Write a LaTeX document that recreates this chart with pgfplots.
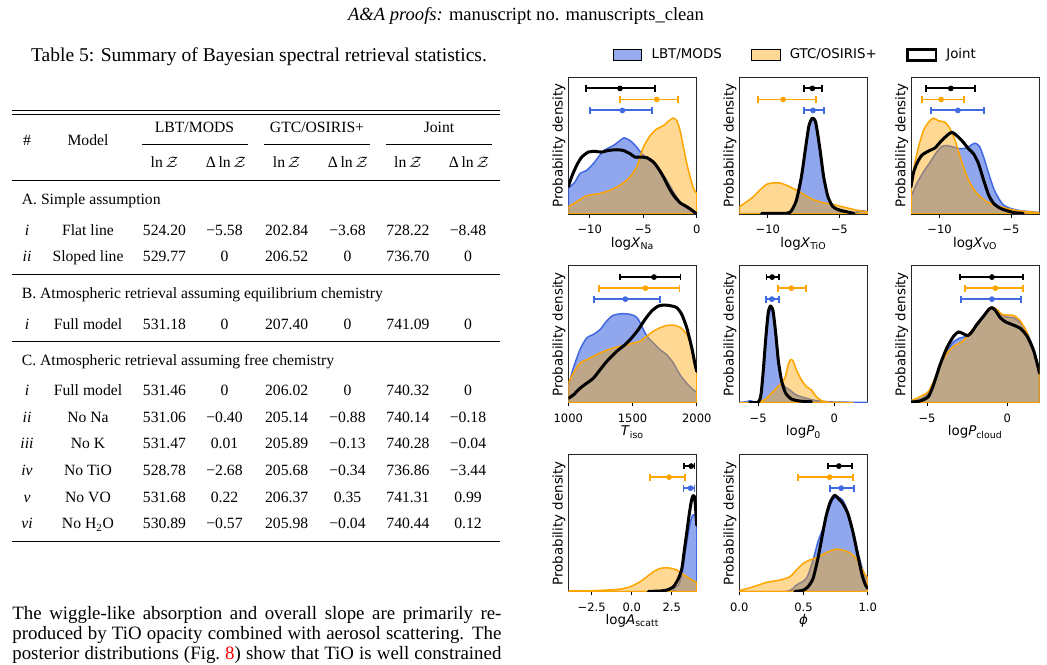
\documentclass[border=0pt]{standalone}
\usepackage{fontspec}
\setmainfont{Liberation Serif}
\newfontfamily\plotfont{DejaVu Sans}
\usepackage{pgfplots}
\pgfplotsset{compat=1.18}
\definecolor{royal}{RGB}{65,105,225}
\definecolor{orng}{RGB}{255,165,0}
\newcommand\pf{\plotfont\fontsize{7.1}{8.5}\selectfont}
\newcommand\tf{\plotfont\fontsize{6.1}{7.5}\selectfont}
\pgfplotsset{
  kde/.style={scale only axis, width=68.1pt, height=72.6pt, anchor=south west,
    ymin=0, ymax=1, ytick=\empty, xtick pos=bottom, tick align=outside,
    major tick length=1.9pt, tick style={black, line width=0.45pt},
    axis line style={black!85, line width=0.5pt},
    tick label style={font=\tf},
    xticklabel style={anchor=base, yshift=-8.5pt},
    label style={font=\pf},
    xlabel style={at={(axis description cs:0.5,-0.241)}, anchor=base},
    ylabel style={at={(axis description cs:-0.072,0.5)}, anchor=center},
    ylabel={Probability density}, clip=true},
  bfill/.style={forget plot, draw=royal, line width=0.8pt, fill=royal, fill opacity=0.58, smooth, tension=0.4, line join=round},
  ofill/.style={forget plot, draw=orng, line width=0.8pt, fill=orng, fill opacity=0.42, smooth, tension=0.4, line join=round},
  jline/.style={forget plot, draw=black, line width=1.6pt, smooth, tension=0.4, line join=round, line cap=round},
  eb/.style={forget plot, color=#1, only marks, mark=*, mark size=1.3pt,
    error bars/.cd, x dir=both, x explicit,
    error bar style={line width=1pt, #1},
    error mark options={#1, rotate=90, mark size=1.8pt, line width=1pt}},
}
\tikzset{tn/.style={anchor=base, inner sep=0pt, font=\fontsize{8.3}{10}\selectfont},
         tl/.style={anchor=base west, inner sep=0pt, font=\fontsize{8.3}{10}\selectfont}}
\newcommand\trow[9]{%
  \node[tn] at (27,#1) {\textit{#2}};
  \node[tn] at (88,#1) {#3};
  \node[tn] at (164.5,#1) {#4};
  \node[tn] at (224.5,#1) {#5};
  \node[tn] at (286.7,#1) {#6};
  \node[tn] at (347.5,#1) {#7};
  \node[tn] at (408,#1) {#8};
  \node[tn] at (468,#1) {#9};}
\begin{document}
\begin{tikzpicture}[x=0.53pt,y=-0.53pt]
\fill[white] (0,0) rectangle (1047,665);
\path[use as bounding box] (0,0) rectangle (1047,665);
% page header and caption
\node[anchor=base, inner sep=0pt, font=\fontsize{9.85}{12}\selectfont] at (526,21) {\textit{A\&A proofs:} manuscript no. manuscripts\_clean};
\node[anchor=base, inner sep=0pt, font=\fontsize{10.35}{12}\selectfont] at (259,62) {Table 5: Summary of Bayesian spectral retrieval statistics.};
% rules
\draw[line width=0.5pt] (12,110.7) -- (500,110.7);
\draw[line width=0.5pt] (12,114.3) -- (500,114.3);
\draw[line width=0.4pt] (142,144.5) -- (248,144.5);
\draw[line width=0.4pt] (264,144.5) -- (370,144.5);
\draw[line width=0.4pt] (386,144.5) -- (492,144.5);
\draw[line width=0.4pt] (12,180) -- (500,180);
\draw[line width=0.4pt] (12,274) -- (500,274);
\draw[line width=0.4pt] (12,341) -- (500,341);
\draw[line width=0.5pt] (12,541) -- (500,541);
% header
\node[tn] at (27,145.5) {\#};
\node[tn] at (88,145.5) {Model};
\node[tn] at (194.5,133) {LBT/MODS};
\node[tn] at (317,133) {GTC/OSIRIS+};
\node[tn] at (439,133) {Joint};
\foreach \cx in {164.5,286.7,408} {\node[tn] at (\cx,168) {ln\,$\mathcal{Z}$};}
\foreach \cx in {226,348,469} {\node[tn] at (\cx,168) {Δ\,ln\,$\mathcal{Z}$};}
\node[tl] at (21.5,205) {A. Simple assumption};
\trow{236}{i}{Flat line}{524.20}{−5.58}{202.84}{−3.68}{728.22}{−8.48}
\trow{261.7}{ii}{Sloped line}{529.77}{0}{206.52}{0}{736.70}{0}
\node[tl] at (21.5,298.5) {B. Atmospheric retrieval assuming equilibrium chemistry};
\trow{329.5}{i}{Full model}{531.18}{0}{207.40}{0}{741.09}{0}
\node[tl] at (21.5,365.5) {C. Atmospheric retrieval assuming free chemistry};
\trow{396}{i}{Full model}{531.46}{0}{206.02}{0}{740.32}{0}
\trow{422.7}{ii}{No Na}{531.06}{−0.40}{205.14}{−0.88}{740.14}{−0.18}
\trow{449}{iii}{No K}{531.47}{0.01}{205.89}{−0.13}{740.28}{−0.04}
\trow{476}{iv}{No TiO}{528.78}{−2.68}{205.68}{−0.34}{736.86}{−3.44}
\trow{502.5}{v}{No VO}{531.68}{0.22}{206.37}{0.35}{741.31}{0.99}
\trow{529}{vi}{No H\textsubscript{2}O}{530.89}{−0.57}{205.98}{−0.04}{740.44}{0.12}
% body text
\node[anchor=base west, inner sep=0pt, font=\fontsize{10}{12}\selectfont] at (12,620) {\makebox[259.2pt][s]{The wiggle-like absorption and overall slope are primarily re-}};
\node[anchor=base west, inner sep=0pt, font=\fontsize{10}{12}\selectfont] at (12,640) {\makebox[259.2pt][s]{produced by TiO opacity combined with aerosol scattering. The}};
\node[anchor=base west, inner sep=0pt, font=\fontsize{10}{12}\selectfont] at (12,659.5) {\makebox[259.2pt][s]{posterior distributions (Fig.~\textcolor{red}{8}) show that TiO is well constrained}};
% axis anchors
\coordinate (a1) at (568.3,214);
\coordinate (a2) at (739.3,214);
\coordinate (a3) at (911,214);
\coordinate (a4) at (568.3,402.7);
\coordinate (a5) at (739.3,402.7);
\coordinate (a6) at (911,402.7);
\coordinate (a7) at (568.3,591.7);
\coordinate (a8) at (739.3,591.7);
% ---------------- panel 1
\begin{axis}[kde, at={(a1)}, xmin=-12, xmax=0, xtick={-10,-5,0}, xticklabels={−10,−5,0},
  xlabel={log\textit{X}\textsubscript{Na}},
  legend style={at={(axis description cs:0.3455,1.1606)}, anchor=west, draw=none, fill=none,
    inner sep=0pt, font=\pf, legend columns=3,
    /tikz/every odd column/.append style={column sep=3pt},
    /tikz/every even column/.append style={column sep=13.6pt}},
  legend image code/.code={\draw[#1] (0pt,-2.9pt) rectangle (15pt,2.9pt);}]
\addlegendimage{fill=royal, fill opacity=0.55, draw=none}
\addlegendentry{LBT/MODS}
\addlegendimage{fill=orng, fill opacity=0.42, draw=none}
\addlegendentry{GTC/OSIRIS+}
\addlegendimage{fill=white, draw=black, line width=1.2pt}
\addlegendentry{Joint}
\addplot[bfill] coordinates {(-12,0.19) (-11.6,0.215) (-11.37,0.234) (-10.91,0.295) (-10.28,0.319) (-9.67,0.367) (-9.2,0.415) (-8.8,0.455) (-8.42,0.476) (-7.79,0.500) (-7.17,0.536) (-6.79,0.556) (-6.23,0.536) (-5.61,0.488) (-5.14,0.440) (-4.67,0.411) (-4.05,0.386) (-3.43,0.319) (-2.80,0.246) (-2.18,0.162) (-1.56,0.089) (-0.93,0.041) (-0.31,0.017) (0,0.005)} \closedcycle;
\addplot[ofill] coordinates {(-12,0.053) (-11.22,0.089) (-10.29,0.133) (-9.04,0.150) (-8.10,0.174) (-7.17,0.210) (-6.23,0.271) (-5.61,0.343) (-5.30,0.415) (-4.99,0.488) (-4.36,0.572) (-3.74,0.621) (-3.12,0.645) (-2.49,0.688) (-2.18,0.700) (-1.87,0.681) (-1.56,0.609) (-1.25,0.488) (-0.93,0.367) (-0.62,0.271) (-0.31,0.186) (0,0.150)} \closedcycle;
\addplot[jline] coordinates {(-12,0.198) (-11.69,0.271) (-11.22,0.355) (-10.75,0.415) (-10.13,0.452) (-9.51,0.457) (-8.88,0.452) (-8.26,0.464) (-7.48,0.469) (-6.86,0.464) (-6.23,0.440) (-5.77,0.415) (-5.30,0.415) (-4.67,0.411) (-4.05,0.379) (-3.58,0.331) (-3.12,0.271) (-2.65,0.198) (-2.18,0.138) (-1.56,0.082) (-0.93,0.053) (-0.47,0.029) (-0.09,0.005)};
\addplot[eb=black] coordinates {(-7.17,0.917) += (3.27,0) -= (3.21,0)};
\addplot[eb=orng] coordinates {(-3.74,0.836) += (1.96,0) -= (3.43,0)};
\addplot[eb=royal] coordinates {(-6.95,0.756) += (2.74,0) -= (3.02,0)};
\end{axis}
% ---------------- panel 2
\begin{axis}[kde, at={(a2)}, xmin=-12, xmax=-3, xtick={-10,-5}, xticklabels={−10,−5},
  xlabel={log\textit{X}\textsubscript{TiO}}]
\addplot[bfill] coordinates {(-12,0.003) (-8.81,0.005) (-8.23,0.041) (-7.88,0.126) (-7.53,0.343) (-7.30,0.536) (-7.07,0.669) (-6.88,0.700) (-6.65,0.657) (-6.42,0.488) (-6.14,0.295) (-5.86,0.150) (-5.56,0.065) (-5.21,0.029) (-4.98,0.017) (-4.05,0.010) (-3.35,0.024) (-3.00,0.012)} \closedcycle;
\addplot[ofill] coordinates {(-12,0.053) (-11.49,0.089) (-11.02,0.126) (-10.56,0.174) (-10.09,0.217) (-9.63,0.227) (-9.16,0.227) (-8.70,0.210) (-8.23,0.186) (-7.77,0.162) (-7.30,0.130) (-6.84,0.106) (-6.37,0.089) (-5.91,0.077) (-5.44,0.070) (-4.98,0.058) (-4.51,0.046) (-4.05,0.034) (-3.58,0.024) (-3.00,0.014)} \closedcycle;
\addplot[jline] coordinates {(-10.44,0.004) (-8.70,0.005) (-8.35,0.024) (-8.00,0.101) (-7.65,0.271) (-7.35,0.488) (-7.12,0.645) (-6.88,0.700) (-6.65,0.669) (-6.37,0.488) (-6.09,0.271) (-5.79,0.126) (-5.44,0.053) (-4.98,0.029) (-3.98,0.005)};
\addplot[eb=black] coordinates {(-6.88,0.917) += (0.69,0) -= (0.61,0)};
\addplot[eb=orng] coordinates {(-8.93,0.836) += (2.28,0) -= (1.74,0)};
\addplot[eb=royal] coordinates {(-6.84,0.756) += (0.75,0) -= (0.63,0)};
\end{axis}
% ---------------- panel 3
\begin{axis}[kde, at={(a3)}, xmin=-12, xmax=-3, xtick={-10,-5}, xticklabels={−10,−5},
  xlabel={log\textit{X}\textsubscript{VO}}]
\addplot[bfill] coordinates {(-12,0.126) (-11.60,0.222) (-11.13,0.307) (-10.66,0.379) (-10.20,0.452) (-9.84,0.493) (-9.49,0.500) (-9.02,0.488) (-8.55,0.476) (-8.09,0.483) (-7.73,0.507) (-7.50,0.517) (-7.20,0.493) (-6.91,0.415) (-6.56,0.295) (-6.21,0.186) (-5.86,0.114) (-5.51,0.065) (-5.04,0.041) (-4.34,0.024) (-3.63,0.017) (-3.00,0.010)} \closedcycle;
\addplot[ofill] coordinates {(-12,0.198) (-11.79,0.343) (-11.48,0.488) (-11.13,0.609) (-10.78,0.669) (-10.43,0.700) (-10.08,0.681) (-9.61,0.669) (-9.26,0.621) (-8.91,0.536) (-8.55,0.415) (-8.20,0.307) (-7.85,0.222) (-7.38,0.150) (-6.91,0.106) (-6.45,0.077) (-5.74,0.053) (-4.80,0.029) (-3.87,0.017) (-3.00,0.010)} \closedcycle;
\addplot[jline] coordinates {(-12,0.198) (-11.84,0.295) (-11.60,0.367) (-11.25,0.428) (-10.78,0.459) (-10.31,0.483) (-9.96,0.524) (-9.49,0.572) (-9.14,0.597) (-8.79,0.572) (-8.44,0.536) (-7.97,0.476) (-7.62,0.440) (-7.27,0.367) (-6.91,0.246) (-6.56,0.138) (-6.21,0.077) (-5.74,0.041) (-5.27,0.024) (-4.80,0.010) (-4.15,0.005)};
\addplot[eb=black] coordinates {(-9.21,0.917) += (1.71,0) -= (1.74,0)};
\addplot[eb=orng] coordinates {(-9.89,0.836) += (1.62,0) -= (1.36,0)};
\addplot[eb=royal] coordinates {(-8.72,0.756) += (1.81,0) -= (1.90,0)};
\end{axis}
% ---------------- panel 4
\begin{axis}[kde, at={(a4)}, xmin=1000, xmax=2000, xtick={1000,1500,2000}, xticklabels={1000,1500,2000},
  xlabel={\textit{T}\textsubscript{iso}}]
\addplot[bfill] coordinates {(1000,0.118) (1039,0.252) (1091,0.387) (1143,0.473) (1195,0.498) (1247,0.534) (1299,0.596) (1338,0.632) (1377,0.645) (1429,0.650) (1480,0.645) (1519,0.632) (1545,0.608) (1571,0.559) (1597,0.510) (1623,0.473) (1662,0.436) (1714,0.387) (1766,0.350) (1818,0.289) (1870,0.203) (1922,0.142) (1974,0.093) (2000,0.076)} \closedcycle;
\addplot[ofill] coordinates {(1000,0.142) (1039,0.216) (1091,0.289) (1169,0.326) (1247,0.363) (1325,0.392) (1403,0.412) (1480,0.429) (1558,0.449) (1610,0.485) (1662,0.522) (1714,0.547) (1766,0.564) (1818,0.566) (1870,0.551) (1922,0.498) (1961,0.400) (1987,0.301) (2000,0.240)} \closedcycle;
\addplot[jline] coordinates {(1000,0.032) (1039,0.056) (1091,0.105) (1143,0.142) (1195,0.179) (1247,0.240) (1299,0.301) (1377,0.375) (1442,0.424) (1493,0.473) (1545,0.534) (1597,0.608) (1649,0.669) (1701,0.706) (1753,0.713) (1805,0.706) (1844,0.694) (1883,0.645) (1922,0.547) (1961,0.400) (1987,0.277) (2000,0.228)};
\addplot[eb=black] coordinates {(1667,0.917) += (206,0) -= (262,0)};
\addplot[eb=orng] coordinates {(1600,0.836) += (265,0) -= (361,0)};
\addplot[eb=royal] coordinates {(1444,0.756) += (270,0) -= (241,0)};
\end{axis}
% ---------------- panel 5
\begin{axis}[kde, at={(a5)}, xmin=-6.24, xmax=2.2, xtick={-5,0}, xticklabels={−5,0},
  xlabel={log\textit{P}\textsubscript{0}}]
\addplot[bfill] coordinates {(-6.24,0.002) (-5.76,0.007) (-5.54,0.015) (-5.21,0.005) (-4.93,0.012) (-4.78,0.105) (-4.63,0.277) (-4.45,0.498) (-4.28,0.650) (-4.15,0.681) (-4.02,0.645) (-3.88,0.522) (-3.75,0.375) (-3.62,0.252) (-3.47,0.167) (-3.25,0.118) (-2.93,0.093) (-2.49,0.056) (-1.83,0.032) (-1.18,0.015) (-0.09,0.005) (2.2,0.002)} \closedcycle;
\addplot[ofill] coordinates {(-6.24,0.001) (-5.32,0.001) (-4.89,0.005) (-4.45,0.032) (-4.02,0.081) (-3.58,0.130) (-3.25,0.179) (-3.03,0.277) (-2.88,0.314) (-2.71,0.306) (-2.49,0.240) (-2.16,0.167) (-1.83,0.118) (-1.51,0.093) (-1.18,0.044) (-0.85,0.015) (-0.31,0.003) (1.22,0.001)} \closedcycle;
\addplot[jline] coordinates {(-5.54,0.002) (-5.0,0.003) (-4.82,0.056) (-4.67,0.228) (-4.50,0.473) (-4.34,0.657) (-4.19,0.706) (-4.02,0.669) (-3.84,0.498) (-3.67,0.301) (-3.45,0.154) (-3.19,0.069) (-2.82,0.027) (-2.27,0.012) (-1.51,0.007)};
\addplot[eb=black] coordinates {(-4.08,0.917) += (0.46,0) -= (0.37,0)};
\addplot[eb=orng] coordinates {(-2.82,0.836) += (0.94,0) -= (0.89,0)};
\addplot[eb=royal] coordinates {(-4.10,0.756) += (0.48,0) -= (0.39,0)};
\end{axis}
% ---------------- panel 6
\begin{axis}[kde, at={(a6)}, xmin=-6, xmax=2, xtick={-5,0}, xticklabels={−5,0},
  xlabel={log\textit{P}\textsubscript{cloud}}]
\addplot[bfill] coordinates {(-6,0.007) (-5.44,0.027) (-5.02,0.056) (-4.60,0.142) (-4.19,0.277) (-3.77,0.375) (-3.35,0.444) (-2.94,0.473) (-2.52,0.485) (-2.10,0.534) (-1.69,0.596) (-1.27,0.664) (-1.02,0.689) (-0.75,0.674) (-0.44,0.645) (-0.02,0.625) (0.40,0.620) (0.81,0.583) (1.23,0.510) (1.65,0.387) (2.00,0.216)} \closedcycle;
\addplot[ofill] coordinates {(-6,0.015) (-5.44,0.044) (-4.92,0.081) (-4.50,0.179) (-4.08,0.301) (-3.67,0.375) (-3.25,0.419) (-2.83,0.444) (-2.42,0.498) (-2.00,0.559) (-1.58,0.620) (-1.17,0.686) (-0.96,0.699) (-0.65,0.681) (-0.33,0.645) (-0.02,0.640) (0.40,0.637) (0.81,0.596) (1.23,0.510) (1.65,0.375) (2.00,0.240)} \closedcycle;
\addplot[jline] coordinates {(-6,0.005) (-5.44,0.012) (-4.92,0.044) (-4.60,0.130) (-4.19,0.277) (-3.77,0.400) (-3.35,0.485) (-3.04,0.517) (-2.73,0.502) (-2.46,0.490) (-2.21,0.517) (-1.90,0.571) (-1.48,0.632) (-1.17,0.679) (-0.96,0.694) (-0.75,0.674) (-0.44,0.620) (-0.13,0.591) (0.29,0.571) (0.81,0.542) (1.23,0.485) (1.65,0.375) (2.00,0.216)};
\addplot[eb=black] coordinates {(-0.96,0.917) += (1.92,0) -= (1.98,0)};
\addplot[eb=orng] coordinates {(-0.75,0.836) += (1.73,0) -= (1.90,0)};
\addplot[eb=royal] coordinates {(-0.96,0.756) += (1.83,0) -= (1.92,0)};
\end{axis}
% ---------------- panel 7
\begin{axis}[kde, at={(a7)}, xmin=-3.96, xmax=4.06, xtick={-2.5,0,2.5}, xticklabels={−2.5,0.0,2.5},
  xlabel={log\textit{A}\textsubscript{scatt}}]
\addplot[bfill] coordinates {(-3.96,0.001) (2.19,0.002) (2.60,0.024) (2.92,0.049) (3.13,0.121) (3.27,0.243) (3.44,0.364) (3.58,0.461) (3.71,0.530) (3.81,0.560) (3.92,0.560) (4.06,0.540)} \closedcycle;
\addplot[ofill] coordinates {(-3.96,0.005) (-2.60,0.007) (-1.56,0.012) (-0.73,0.019) (-0.10,0.036) (0.52,0.073) (0.94,0.109) (1.35,0.146) (1.77,0.170) (2.19,0.175) (2.50,0.170) (2.81,0.158) (3.13,0.133) (3.44,0.109) (3.75,0.085) (3.96,0.073) (4.06,0.068)} \closedcycle;
\addplot[jline] coordinates {(1.04,0.002) (1.77,0.005) (2.19,0.012) (2.60,0.036) (2.92,0.097) (3.13,0.170) (3.27,0.291) (3.44,0.437) (3.58,0.558) (3.71,0.655) (3.81,0.699) (3.92,0.692) (4.00,0.583) (4.06,0.485)};
\addplot[eb=black] coordinates {(3.71,0.917) += (0.21,0) -= (0.44,0)};
\addplot[eb=orng] coordinates {(2.33,0.836) += (1.00,0) -= (1.18,0)};
\addplot[eb=royal] coordinates {(3.67,0.756) += (0.25,0) -= (0.44,0)};
\end{axis}
% ---------------- panel 8
\begin{axis}[kde, at={(a8)}, xmin=0, xmax=1, xtick={0,0.5,1}, xticklabels={0.0,0.5,1.0},
  xlabel={\textit{ϕ}}]
\addplot[bfill] coordinates {(0,0.001) (0.367,0.002) (0.444,0.049) (0.522,0.097) (0.574,0.231) (0.612,0.364) (0.651,0.461) (0.690,0.583) (0.729,0.675) (0.767,0.692) (0.806,0.667) (0.845,0.583) (0.884,0.449) (0.922,0.291) (0.961,0.158) (1.0,0.085)} \closedcycle;
\addplot[ofill] coordinates {(0,0.007) (0.109,0.036) (0.212,0.068) (0.315,0.085) (0.393,0.109) (0.444,0.158) (0.496,0.206) (0.548,0.231) (0.599,0.248) (0.651,0.272) (0.703,0.296) (0.755,0.311) (0.806,0.303) (0.858,0.286) (0.910,0.243) (0.948,0.182) (0.974,0.133) (1.0,0.097)} \closedcycle;
\addplot[jline] coordinates {(0.432,0.002) (0.496,0.010) (0.535,0.036) (0.574,0.097) (0.612,0.243) (0.651,0.437) (0.677,0.558) (0.708,0.655) (0.742,0.704) (0.767,0.684) (0.806,0.643) (0.845,0.570) (0.884,0.437) (0.922,0.267) (0.956,0.121) (0.982,0.049) (1.0,0.024)};
\addplot[eb=black] coordinates {(0.775,0.917) += (0.101,0) -= (0.083,0)};
\addplot[eb=orng] coordinates {(0.703,0.836) += (0.181,0) -= (0.243,0)};
\addplot[eb=royal] coordinates {(0.793,0.756) += (0.098,0) -= (0.090,0)};
\end{axis}
\end{tikzpicture}
\end{document}
